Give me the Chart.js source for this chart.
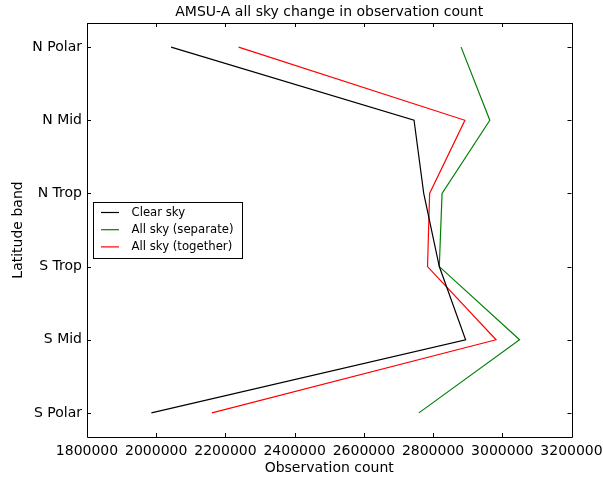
<!DOCTYPE html>
<html>
<head>
<meta charset="utf-8">
<script src="https://cdn.jsdelivr.net/npm/chart.js@4/dist/chart.umd.min.js"></script>
<style>
  html, body { margin: 0; padding: 0; background: #fff; }
  #wrap { width: 603px; height: 479px; }
</style>
</head>
<body>
<div id="wrap"><canvas id="myChart" width="603" height="479"></canvas></div>
<script>
// latitude bands, top to bottom
const bands = ['N Polar', 'N Mid', 'N Trop', 'S Trop', 'S Mid', 'S Polar'];
const clearSky = [2043000, 2745000, 2773000, 2818000, 2894000, 1986000];
const allSkySeparate = [2881000, 2964000, 2826000, 2818000, 3050000, 2759000];
const allSkyTogether = [2238000, 2892000, 2790000, 2784000, 2982000, 2161000];
const xTicks = [1800000, 2000000, 2200000, 2400000, 2600000, 2800000, 3000000, 3200000];

const title = 'AMSU-A all sky change in observation count';
const font = 'DejaVu Sans';

function toPoints(values) {
    return values.map((v, i) => ({ x: v, y: i }));
}

// matplotlib style frame, inward ticks, title and legend
const mplPlugin = {
    id: 'mpl',
    afterDraw(chart) {
        const ctx = chart.ctx;
        const a = chart.chartArea;
        const xs = chart.scales.x;
        const ys = chart.scales.y;
        ctx.save();
        ctx.strokeStyle = '#000';
        ctx.lineWidth = 1;
        ctx.beginPath();
        ctx.rect(Math.round(a.left) + 0.5, Math.round(a.top) + 0.5,
                 Math.round(a.right - a.left), Math.round(a.bottom - a.top));
        ctx.stroke();

        ctx.beginPath();
        xTicks.forEach(v => {
            const px = Math.round(xs.getPixelForValue(v)) + 0.5;
            ctx.moveTo(px, a.bottom); ctx.lineTo(px, a.bottom - 4);
            ctx.moveTo(px, a.top); ctx.lineTo(px, a.top + 4);
        });
        bands.forEach((b, i) => {
            const py = Math.round(ys.getPixelForValue(i)) + 0.5;
            ctx.moveTo(a.left, py); ctx.lineTo(a.left + 4, py);
            ctx.moveTo(a.right, py); ctx.lineTo(a.right - 4, py);
        });
        ctx.stroke();

        // title
        ctx.fillStyle = '#000';
        ctx.font = '14px "' + font + '"';
        ctx.textAlign = 'center';
        ctx.textBaseline = 'middle';
        ctx.fillText(title, (a.left + a.right) / 2, 12);

        // legend
        const lx = 93, ly = 202, lw = 149, lh = 56;
        ctx.fillStyle = '#fff';
        ctx.fillRect(lx, ly, lw, lh);
        ctx.strokeStyle = '#000';
        ctx.strokeRect(lx + 0.5, ly + 0.5, lw, lh);
        ctx.font = '11.7px "' + font + '"';
        ctx.textAlign = 'left';
        chart.data.datasets.forEach((ds, i) => {
            const y = 212.5 + i * 17.2;
            ctx.strokeStyle = ds.borderColor;
            ctx.lineWidth = 1.2;
            ctx.beginPath();
            ctx.moveTo(101, y); ctx.lineTo(119, y);
            ctx.stroke();
            ctx.fillStyle = '#000';
            ctx.fillText(ds.label, 131.5, y);
        });
        ctx.restore();
    }
};

document.addEventListener('DOMContentLoaded', function() {
    const ctx = document.getElementById('myChart');

    new Chart(ctx, {
        type: 'line',
        data: {
            datasets: [{
                label: 'Clear sky',
                data: toPoints(clearSky),
                borderColor: '#000000',
                borderWidth: 1.2
            }, {
                label: 'All sky (separate)',
                data: toPoints(allSkySeparate),
                borderColor: '#008000',
                borderWidth: 1.2
            }, {
                label: 'All sky (together)',
                data: toPoints(allSkyTogether),
                borderColor: '#ff0000',
                borderWidth: 1.2
            }]
        },
        plugins: [mplPlugin],
        options: {
            responsive: false,
            animation: false,
            events: [],
            elements: { point: { radius: 0 }, line: { tension: 0 } },
            layout: { padding: { top: 23, right: 31.5, left: 0, bottom: 0 } },
            plugins: {
                legend: { display: false },
                tooltip: { enabled: false }
            },
            scales: {
                x: {
                    type: 'linear',
                    min: 1800000,
                    max: 3200000,
                    afterBuildTicks: s => { s.ticks = xTicks.map(v => ({ value: v })); },
                    afterFit: s => { s.height = 42; s.paddingLeft = 0; s.paddingRight = 0; },
                    grid: { display: false, drawTicks: false },
                    border: { display: false },
                    ticks: {
                        color: '#000',
                        padding: 6,
                        maxRotation: 0,
                        autoSkip: false,
                        font: { family: font, size: 14 },
                        callback: v => String(v)
                    },
                    title: {
                        display: true,
                        text: 'Observation count',
                        color: '#000',
                        font: { family: font, size: 14 },
                        padding: { top: 0, bottom: 2 }
                    }
                },
                y: {
                    type: 'linear',
                    reverse: true,
                    min: -0.33,
                    max: 5.33,
                    afterBuildTicks: s => { s.ticks = bands.map((b, i) => ({ value: i })); },
                    afterFit: s => { s.width = 87; s.paddingTop = 0; s.paddingBottom = 0; },
                    grid: { display: false, drawTicks: false },
                    border: { display: false },
                    ticks: {
                        color: '#000',
                        padding: 5,
                        autoSkip: false,
                        font: { family: font, size: 14 },
                        callback: v => bands[v]
                    },
                    title: {
                        display: true,
                        text: 'Latitude band',
                        color: '#000',
                        font: { family: font, size: 14 },
                        padding: { top: 10, bottom: 0 }
                    }
                }
            }
        }
    });
});
</script>
</body>
</html>
